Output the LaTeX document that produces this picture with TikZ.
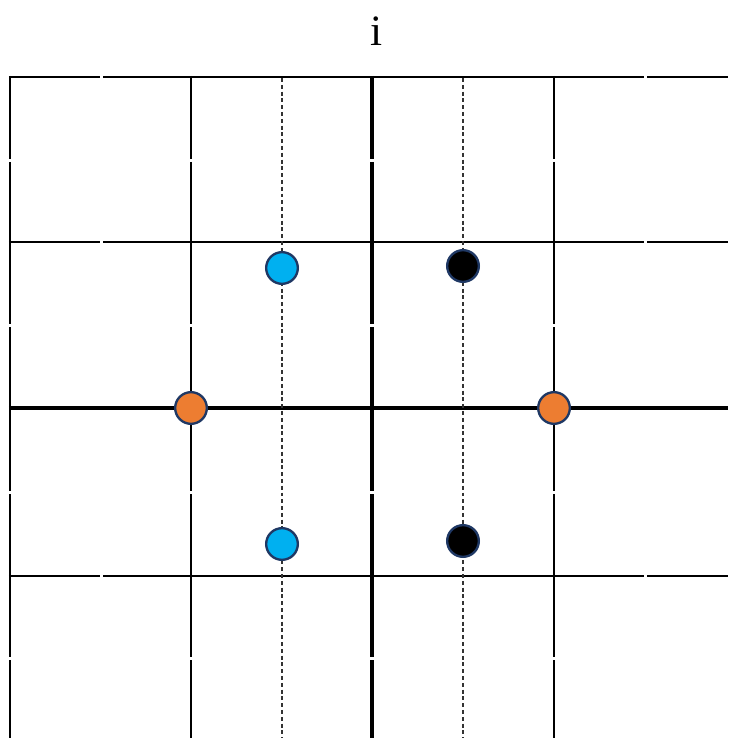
\documentclass[tikz,border=0pt]{standalone}
\usepackage{fontspec}
\setmainfont{Liberation Serif}
\usepackage{xcolor}
\usepackage{tikz}
\usetikzlibrary{positioning, calc}
\definecolor{ptblue}{HTML}{00B0F0}
\definecolor{ptorange}{HTML}{ED7D31}
\definecolor{ptrim}{HTML}{1F3864}
\tikzstyle{gridline} = [line width=2.2pt, black]
\tikzstyle{axisline} = [line width=3.4pt, black]
\tikzstyle{guide} = [line width=0.9pt, black!80, dash pattern=on 3.4pt off 2.4pt]
\tikzstyle{dot} = [circle, minimum size=0.95cm, inner sep=0pt, draw=ptrim, line width=2pt]

\begin{document}
\begin{tikzpicture}[x=0.03cm, y=-0.03cm]
    \useasboundingbox (0,0) rectangle (728,738);

    % Titel
    \node (title) at (377,31) {\fontsize{37}{40}\selectfont i};

    % Gitter waagrecht
    \foreach \y in {77,242,576} {
        \draw [gridline] (8.9,\y) -- (100,\y);
        \draw [gridline] (103,\y) -- (644,\y);
        \draw [gridline] (647,\y) -- (728,\y);
    }
    \draw [axisline] (8.9,408) -- (728,408);

    % Gitter senkrecht
    \foreach \x in {10,191,554} {
        \draw [gridline] (\x,76) -- (\x,159);
        \draw [gridline] (\x,162) -- (\x,324);
        \draw [gridline] (\x,327) -- (\x,491);
        \draw [gridline] (\x,494) -- (\x,657);
        \draw [gridline] (\x,660) -- (\x,738);
    }
    \draw [axisline] (372,76) -- (372,159);
    \draw [axisline] (372,162) -- (372,324);
    \draw [axisline] (372,327) -- (372,491);
    \draw [axisline] (372,494) -- (372,657);
    \draw [axisline] (372,660) -- (372,738);

    % Hilfslinien
    \draw [guide] (282,78) -- (282,738);
    \draw [guide] (463,78) -- (463,738);

    % Punkte
    \node (b1) [dot, fill=ptblue] at (282,268) {};
    \node (b2) [dot, fill=ptblue] at (282,544) {};
    \node (k1) [dot, fill=black] at (463,266) {};
    \node (k2) [dot, fill=black] at (463,541) {};
    \node (o1) [dot, fill=ptorange] at (191,408) {};
    \node (o2) [dot, fill=ptorange] at (554,408) {};
\end{tikzpicture}
\end{document}
